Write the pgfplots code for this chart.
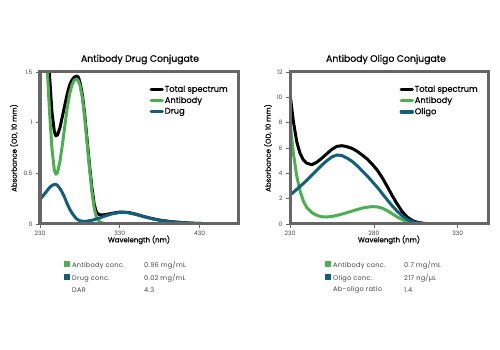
\documentclass[border=0pt]{standalone}
\usepackage{pgfplots}
\pgfplotsset{compat=1.18}
\usepackage{fontspec}
\setmainfont{Poppins}
\newfontfamily\medium[FakeBold=0.7]{Poppins}
\newfontfamily\spaced[LetterSpace=4]{Poppins}
\definecolor{framegray}{HTML}{666666}
\definecolor{abgreen}{HTML}{4CAF50}
\definecolor{drugblue}{HTML}{115E7D}
\definecolor{txtgray}{HTML}{444444}
\pgfplotsset{
  specaxis/.style={
    anchor=south west, scale only axis, width=198bp, height=152bp,
    axis on top,
    axis line style={line width=3bp, color=framegray},
    tick style={color=framegray, line width=0.7bp},
    tick align=outside, major tick length=4bp,
    xtick pos=left, ytick pos=left,
    /pgf/number format/assume math mode=true,
    tick label style={font=\fontsize{6bp}{7bp}\selectfont, color=txtgray},
    label style={font=\medium\fontsize{7bp}{8bp}\selectfont},
    legend image code/.code={\draw[#1, line width=3.5bp, line cap=round] (0bp,0bp) -- (11bp,0bp);},
    legend style={at={(0.537,0.93)}, anchor=north west, draw=none, fill=none,
      font=\medium\fontsize{8.3bp}{10bp}\selectfont, row sep=1.8bp,
      nodes={inner sep=0.8bp}},
    legend cell align=left,
    every axis plot/.append style={line width=3bp, line join=round, no markers},
  }
}
\begin{document}
\begin{tikzpicture}
\path[use as bounding box] (0bp,0bp) rectangle (500bp,350bp);
% ---------------- Left: Antibody Drug Conjugate
\begin{axis}[specaxis, at={(40bp,126bp)},
  xmin=230, xmax=478, ymin=0, ymax=1.5,
  xtick={230,330,430}, ytick={0,0.5,1,1.5},
  yticklabels={0,0.5,1,1.5},
  xlabel={Wavelength (nm)},
  x label style={at={(axis description cs:0.5,-0.105)}, anchor=center},
  ylabel={Absorbance (OD, 10 mm)},
  y label style={at={(axis description cs:-0.131,0.5)}, anchor=center},
]
\addplot[black] coordinates {
(230,3.44)(233,2.87)(236,2.35)(239,1.88)(242,1.46)(245,1.10)(248,0.91)(250,0.87)
(252,0.88)(255,0.95)(258,1.06)(261,1.17)(264,1.28)(267,1.37)(270,1.42)(273,1.45)
(276,1.46)(278,1.45)(280,1.40)(283,1.28)(286,1.08)(289,0.83)(292,0.58)(295,0.36)
(298,0.19)(301,0.11)(305,0.09)(310,0.09)(320,0.105)(330,0.118)(340,0.115)(350,0.097)
(360,0.074)(370,0.054)(380,0.038)(390,0.027)(400,0.019)(420,0.008)(440,0.003)(450,0.001)};
\addlegendentry{Total spectrum}
\addplot[abgreen] coordinates {
(230,3.2)(233,2.6)(236,2.05)(239,1.55)(242,1.10)(245,0.74)(248,0.53)(250,0.49)
(252,0.51)(255,0.62)(258,0.78)(261,0.96)(264,1.14)(267,1.28)(270,1.37)(273,1.42)
(276,1.43)(278,1.41)(280,1.37)(283,1.25)(286,1.05)(289,0.80)(292,0.55)(295,0.32)
(298,0.15)(301,0.06)(305,0.02)(310,0.005)(320,0)(380,0)};
\addlegendentry{Antibody}
\addplot[drugblue] coordinates {
(230,0.24)(233,0.27)(236,0.30)(239,0.33)(242,0.36)(245,0.38)(248,0.39)(250,0.39)
(252,0.38)(255,0.35)(258,0.31)(261,0.26)(264,0.20)(267,0.15)(270,0.11)(273,0.075)
(276,0.05)(278,0.04)(280,0.032)(283,0.027)(286,0.026)(289,0.028)(292,0.032)(295,0.037)
(298,0.043)(301,0.05)(305,0.06)(310,0.075)(320,0.10)(330,0.115)(340,0.112)(350,0.095)
(360,0.073)(370,0.053)(380,0.037)(390,0.026)(400,0.018)(420,0.008)(440,0.003)(450,0.001)};
\addlegendentry{Drug}
\end{axis}
% ---------------- Right: Antibody Oligo Conjugate
\begin{axis}[specaxis, at={(290bp,126bp)},
  xmin=230, xmax=348, ymin=0, ymax=12,
  xtick={230,280,330}, ytick={0,2,4,6,8,10,12},
  xlabel={Wavelength (nm)},
  x label style={at={(axis description cs:0.5,-0.105)}, anchor=center},
  ylabel={Absorbance (OD, 10 mm)},
  y label style={at={(axis description cs:-0.111,0.5)}, anchor=center},
]
\addplot[black] coordinates {
(230,10.3)(232,8.1)(234,6.5)(236,5.57)(238,5.05)(240,4.8)(243,4.68)(246,4.88)
(249,5.2)(252,5.55)(255,5.9)(258,6.13)(261,6.18)(264,6.1)(267,5.97)(270,5.74)
(273,5.45)(276,5.13)(279,4.72)(282,4.25)(285,3.65)(288,2.95)(291,2.22)(294,1.55)
(297,0.95)(300,0.53)(303,0.27)(306,0.13)(310,0.045)(315,0.015)(320,0.003)(330,0)(348,0)};
\addlegendentry{Total spectrum}
\addplot[abgreen] coordinates {
(230,8.1)(232,5.6)(234,3.8)(236,2.6)(238,1.8)(240,1.3)(243,0.9)(246,0.68)
(249,0.57)(252,0.55)(255,0.6)(258,0.68)(261,0.78)(264,0.9)(267,1.02)(270,1.14)
(273,1.25)(276,1.33)(279,1.37)(282,1.35)(285,1.25)(288,1.05)(291,0.8)(294,0.55)
(297,0.33)(300,0.18)(303,0.09)(306,0.04)(310,0.015)(315,0.005)(320,0)(330,0)(348,0)};
\addlegendentry{Antibody}
\addplot[drugblue] coordinates {
(230,2.28)(232,2.5)(234,2.73)(236,2.97)(238,3.2)(240,3.45)(243,3.85)(246,4.25)
(249,4.65)(252,5.0)(255,5.3)(258,5.45)(261,5.4)(264,5.2)(267,4.95)(270,4.6)
(273,4.2)(276,3.8)(279,3.35)(282,2.9)(285,2.4)(288,1.9)(291,1.42)(294,1.0)
(297,0.62)(300,0.35)(303,0.18)(306,0.09)(310,0.03)(315,0.01)(320,0.003)(330,0)(348,0)};
\addlegendentry{Oligo}
\end{axis}
% ---------------- Titles
\node[font=\medium\fontsize{9.3bp}{10bp}\selectfont, anchor=center] at (140bp,290.5bp) {Antibody Drug Conjugate};
\node[font=\medium\fontsize{9.3bp}{10bp}\selectfont, anchor=center] at (386bp,290.5bp) {Antibody Oligo Conjugate};
% ---------------- Tables below
\begin{scope}[every node/.style={anchor=west, inner sep=0pt, font=\spaced\fontsize{6.6bp}{7bp}\selectfont, text=txtgray}]
\node at (64bp,85bp) {\textcolor{abgreen}{\rule{6bp}{6bp}}\hspace{2bp}Antibody conc.};
\node at (144bp,85bp) {0.96 mg/mL};
\node at (64bp,72bp) {\textcolor{drugblue}{\rule{6bp}{6bp}}\hspace{2bp}Drug conc.};
\node at (144bp,72bp) {0.02 mg/mL};
\node at (72bp,60bp) {DAR};
\node at (144bp,60bp) {4.3};
\node at (325bp,85bp) {\textcolor{abgreen}{\rule{6bp}{6bp}}\hspace{2bp}Antibody conc.};
\node at (404bp,85bp) {0.7 mg/mL};
\node at (325bp,72bp) {\textcolor{drugblue}{\rule{6bp}{6bp}}\hspace{2bp}Oligo conc.};
\node at (404bp,72bp) {217 ng/µL};
\node at (333bp,60bp) {Ab-oligo ratio};
\node at (404bp,60bp) {1.4};
\end{scope}
\end{tikzpicture}
\end{document}
